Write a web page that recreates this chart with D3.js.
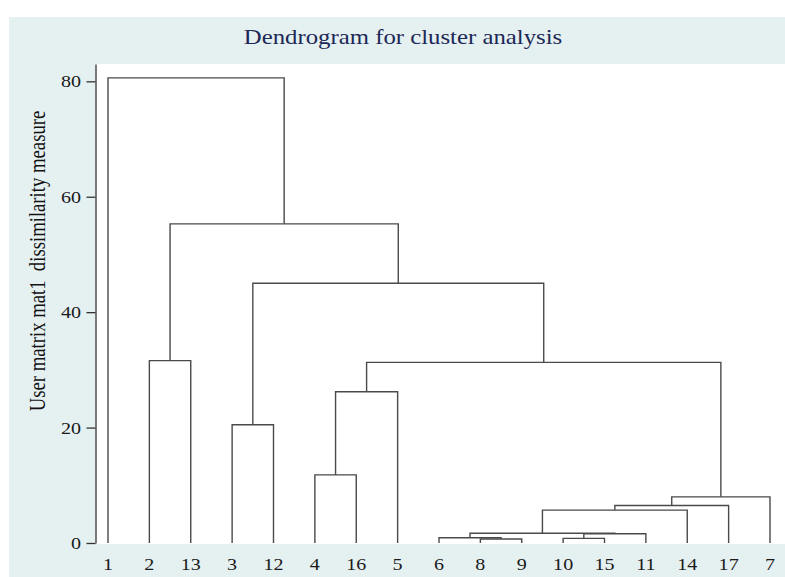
<!DOCTYPE html>
<html><head><meta charset="utf-8">
<script src="https://cdn.jsdelivr.net/npm/d3@7"></script>
<style>body{margin:0;background:#fff}svg{display:block}</style>
</head><body>
<svg id="c" width="785" height="577"></svg>
<script>
// Leaf order along the x axis
const leafOrder = ["1","2","13","3","12","4","16","5","6","8","9","10","15","11","14","17","7"];
// Merges: children are leaf labels ("L<label>") or earlier merges ("M<index>")
const mergeLeft   = ["L8","L6","L10","M2","M1","M4","M5","M6","L4","M8","M9","L3","M11","L2","M13","L1"];
const mergeRight  = ["L9","M0","L15","L11","M3","L14","L17","L7","L16","L5","M7","L12","M10","L13","M12","M14"];
const mergeHeight = [0.7, 0.9, 0.8, 1.6, 1.7, 5.7, 6.5, 8.0, 11.8, 26.2, 31.3, 20.5, 45.0, 31.6, 55.3, 80.6];
const yTicks = [0, 20, 40, 60, 80];
const titleText = "Dendrogram for cluster analysis";
const yTitle = "User matrix mat1  dissimilarity measure";

const svg = d3.select("#c");
const W = 785, H = 577;
const plot = {left: 95.5, right: 785, top: 64, bottom: 544};
const SX = 1.18; // horizontal glyph stretch seen in the reference
const FONT = "Liberation Serif, Times New Roman, serif";

// background panel
svg.append("rect").attr("x", 9).attr("y", 17).attr("width", W - 9).attr("height", H - 17).attr("fill", "#e5f0f1");
svg.append("rect").attr("x", plot.left).attr("y", plot.top).attr("width", plot.right - plot.left).attr("height", plot.bottom - plot.top).attr("fill", "#fff");

const x = d3.scalePoint().domain(leafOrder).range([108, 770]);
const y = d3.scaleLinear().domain([0, 83]).range([543, 64]);

// compute node positions
const pos = {};
leafOrder.forEach(l => pos["L" + l] = {x: x(l), h: 0});
mergeHeight.forEach((h, i) => {
  const a = pos[mergeLeft[i]], b = pos[mergeRight[i]];
  pos["M" + i] = {x: (a.x + b.x) / 2, h: h};
});

const g = svg.append("g");
mergeHeight.forEach((h, i) => {
  const a = pos[mergeLeft[i]], b = pos[mergeRight[i]];
  const p = d3.path();
  p.moveTo(a.x, y(a.h));
  p.lineTo(a.x, y(h));
  p.lineTo(b.x, y(h));
  p.lineTo(b.x, y(b.h));
  g.append("path").attr("d", p.toString()).attr("fill", "none")
    .attr("stroke", "#4a4a4a").attr("stroke-width", 1.4);
});

// y axis
const yAxis = d3.axisLeft(y).tickValues(yTicks).tickSize(9).tickPadding(5).tickSizeOuter(0);
const ya = svg.append("g").attr("transform", `translate(${plot.left},0)`).call(yAxis);
ya.select(".domain").attr("stroke", "#333").attr("stroke-width", 1.3);
ya.selectAll(".tick line").attr("stroke", "#333").attr("stroke-width", 1.3);
ya.selectAll(".tick text").attr("font-family", FONT).attr("font-size", 17).attr("fill", "#1a1a1a")
  .attr("x", 0).attr("transform", `translate(-14.5,0) scale(${SX},1)`);

// x labels
svg.append("g").selectAll("text").data(leafOrder).join("text")
  .attr("transform", d => `translate(${x(d)},570) scale(${SX},1)`).attr("text-anchor", "middle")
  .attr("font-family", FONT).attr("font-size", 17)
  .attr("fill", "#1a1a1a").text(d => d);

// title
svg.append("text").attr("transform", `translate(403,43.5) scale(${SX},1)`).attr("text-anchor", "middle")
  .attr("font-family", FONT).attr("font-size", 21)
  .attr("fill", "#1c2856").text(titleText);

// y title
svg.append("text").attr("transform", `translate(44.5,261) scale(1.28,1) rotate(-90)`).attr("text-anchor", "middle")
  .attr("font-family", FONT).attr("font-size", 18.7)
  .attr("fill", "#111").style("white-space", "pre").text(yTitle);
</script>
</body></html>
